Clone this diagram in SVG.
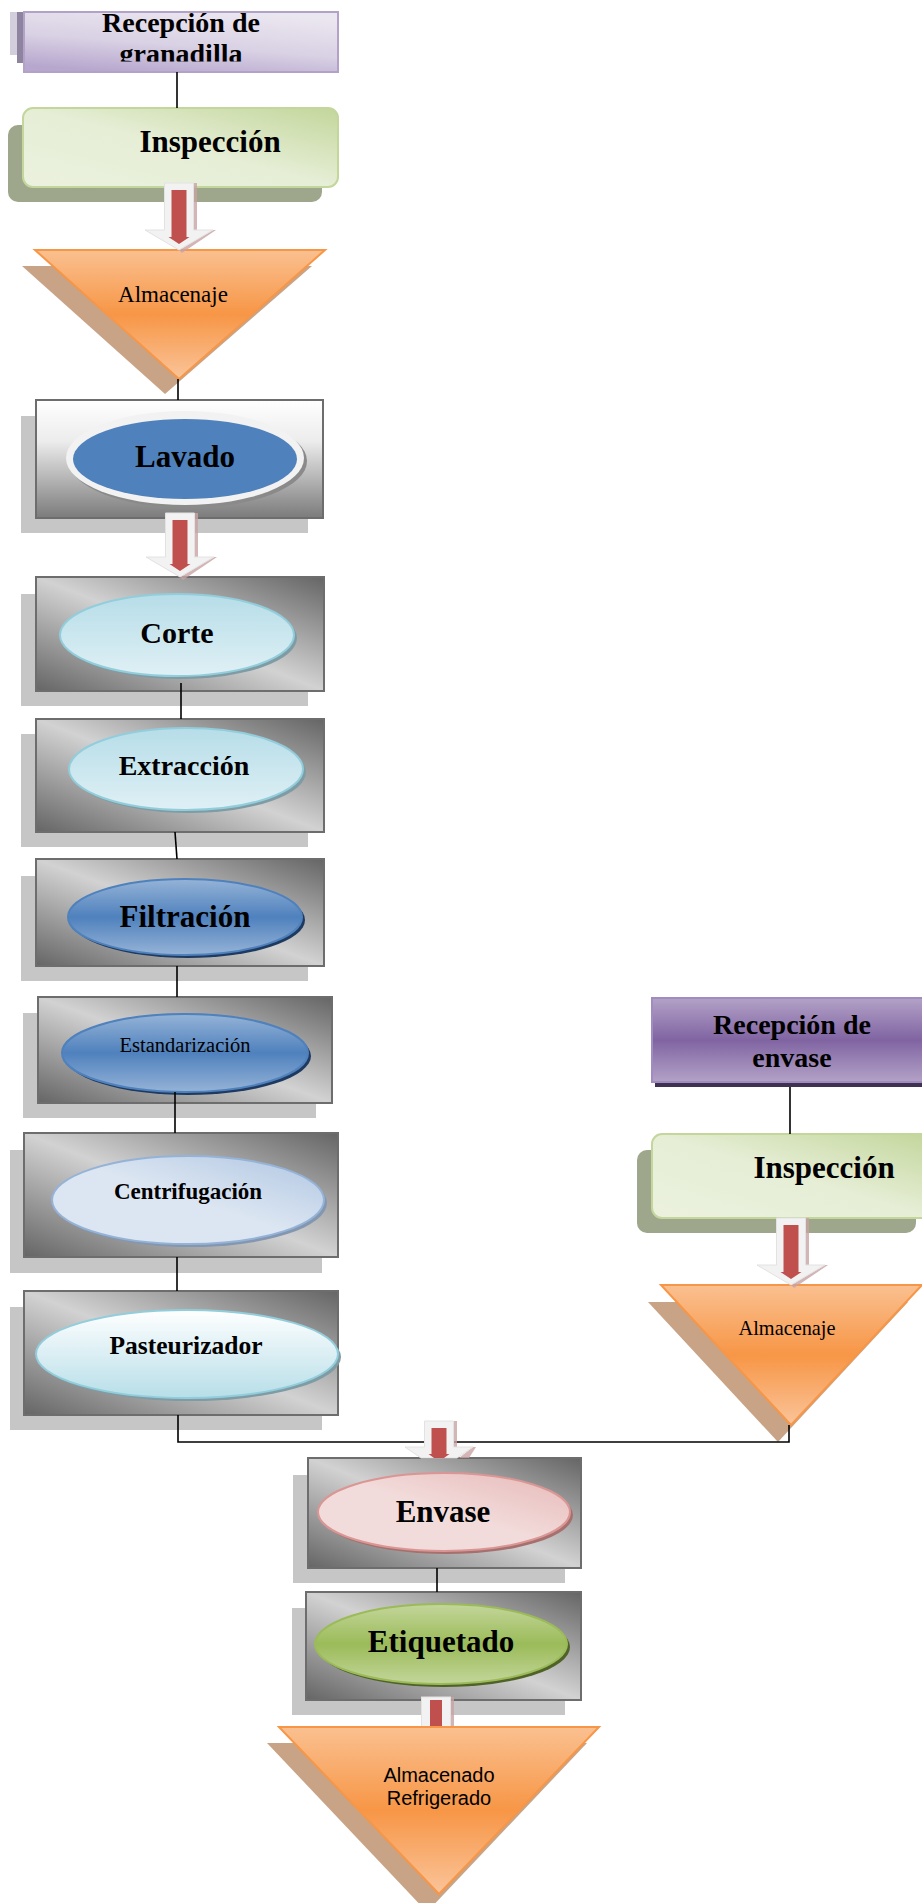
<svg xmlns="http://www.w3.org/2000/svg" width="922" height="1903" viewBox="0 0 922 1903">
<style>
.t{font-family:"Liberation Serif","Times New Roman",serif;fill:#000;text-anchor:middle}
.b{font-weight:bold}
.s{font-family:"Liberation Sans",Arial,sans-serif;fill:#000;text-anchor:middle}
.box{stroke:#6d6d6d;stroke-width:2}
.sh{fill:#c6c6c6}
.tri{fill:url(#gTri);stroke:#f79646;stroke-width:2}
.trish{fill:#c9a385}
.ln{stroke:#000;stroke-width:1.6;fill:none}
.aw{fill:#f2f2f2;stroke:#e2e2e2;stroke-width:1}
.ar{fill:#c0504d}
.ash{fill:#c9a3a3;opacity:.8}
</style>
<defs>
<linearGradient id="gDiag" x1="1" y1="0" x2="0" y2="1"><stop offset="0" stop-color="#656565"/><stop offset="0.5" stop-color="#d2d2d2"/><stop offset="1" stop-color="#656565"/></linearGradient>
<linearGradient id="gVert" x1="0" y1="0" x2="0" y2="1"><stop offset="0" stop-color="#ffffff"/><stop offset="0.35" stop-color="#ececec"/><stop offset="1" stop-color="#7b7b7b"/></linearGradient>
<linearGradient id="gTri" x1="0" y1="0" x2="0" y2="1"><stop offset="0" stop-color="#fac090"/><stop offset="0.5" stop-color="#f79646"/><stop offset="1" stop-color="#fac49a"/></linearGradient>
<linearGradient id="gPurL" x1="0.7" y1="0" x2="0.3" y2="1"><stop offset="0" stop-color="#ebe7f0"/><stop offset="0.55" stop-color="#d9d1e4"/><stop offset="1" stop-color="#b7a7ce"/></linearGradient>
<linearGradient id="gPurD" x1="0" y1="0" x2="0" y2="1"><stop offset="0" stop-color="#b3a2c7"/><stop offset="0.5" stop-color="#8064a2"/><stop offset="1" stop-color="#b3a2c7"/></linearGradient>
<linearGradient id="gGrL" x1="1" y1="0" x2="0" y2="1"><stop offset="0" stop-color="#c3d69b"/><stop offset="0.5" stop-color="#e6eed6"/><stop offset="1" stop-color="#ebf1de"/></linearGradient>
<linearGradient id="gCyan" x1="0" y1="0" x2="0" y2="1"><stop offset="0" stop-color="#b6dde8"/><stop offset="1" stop-color="#dff0f5"/></linearGradient>
<linearGradient id="gBlue" x1="0" y1="0" x2="0" y2="1"><stop offset="0" stop-color="#95b3d7"/><stop offset="0.5" stop-color="#4f81bd"/><stop offset="1" stop-color="#95b3d7"/></linearGradient>
<linearGradient id="gLBlue" x1="1" y1="0" x2="0" y2="1"><stop offset="0" stop-color="#b0c6e2"/><stop offset="0.5" stop-color="#dce6f2"/><stop offset="1" stop-color="#dce6f2"/></linearGradient>
<linearGradient id="gPast" x1="0" y1="0" x2="0" y2="1"><stop offset="0" stop-color="#ffffff"/><stop offset="1" stop-color="#b7dee8"/></linearGradient>
<linearGradient id="gPink" x1="1" y1="0" x2="0" y2="1"><stop offset="0" stop-color="#e6b9b8"/><stop offset="0.5" stop-color="#f2dcdb"/><stop offset="1" stop-color="#f2dcdb"/></linearGradient>
<linearGradient id="gGreen" x1="0" y1="0" x2="0" y2="1"><stop offset="0" stop-color="#c3d69b"/><stop offset="0.5" stop-color="#9bbb59"/><stop offset="1" stop-color="#c3d69b"/></linearGradient>
<clipPath id="clipTop"><rect x="24" y="12" width="314" height="49.5"/></clipPath>
</defs>

<g id="n-recepcion-granadilla">
<rect x="10" y="12" width="10" height="43" fill="#d3cedb"/>
<rect x="17" y="12" width="10" height="51" fill="#8f84a0"/>
<rect x="24" y="12" width="314" height="60" fill="url(#gPurL)" stroke="#b3a2c7" stroke-width="2"/>
<g clip-path="url(#clipTop)">
<text class="t b" x="181" y="32" font-size="28">Recepción de</text>
<text class="t b" x="181" y="63" font-size="28">granadilla</text>
</g>
</g>

<g id="n-inspeccion-1">
<rect x="8" y="125" width="314" height="77" rx="10" fill="#9ea68c"/>
<rect x="23" y="108" width="315" height="79" rx="10" fill="url(#gGrL)" stroke="#c3d69b" stroke-width="2"/>
<text class="t b" x="210" y="152" font-size="31">Inspección</text>
</g>

<g id="n-almacenaje-1">
<polygon class="trish" points="22,266 312,266 165,394"/>
<polygon class="tri" points="35,250 325,250 179,379"/>
<text class="t" x="173" y="302" font-size="23">Almacenaje</text>
</g>

<g id="n-lavado">
<rect class="sh" x="21" y="416" width="287" height="117"/>
<rect class="box" x="36" y="400" width="287" height="118" fill="url(#gVert)"/>
<ellipse cx="188" cy="461" rx="119" ry="47" fill="#8a8a8a"/>
<ellipse cx="185" cy="458" rx="119" ry="47" fill="#f2f2f2"/>
<ellipse cx="185" cy="459" rx="112" ry="40" fill="#4f81bd"/>
<text class="t b" x="185" y="467" font-size="31">Lavado</text>
</g>

<g id="n-corte">
<rect class="sh" x="21" y="594" width="287" height="112"/>
<rect class="box" x="36" y="577" width="288" height="114" fill="url(#gDiag)"/>
<ellipse cx="180" cy="638" rx="117" ry="41" fill="#7f9ca4"/>
<ellipse cx="177" cy="635" rx="117" ry="41" fill="url(#gCyan)" stroke="#92cddc" stroke-width="2"/>
<text class="t b" x="177" y="643" font-size="30">Corte</text>
</g>

<g id="n-extraccion">
<rect class="sh" x="21" y="734" width="287" height="113"/>
<rect class="box" x="36" y="719" width="288" height="113" fill="url(#gDiag)"/>
<ellipse cx="189" cy="772" rx="117" ry="41" fill="#7f9ca4"/>
<ellipse cx="186" cy="769" rx="117" ry="41" fill="url(#gCyan)" stroke="#92cddc" stroke-width="2"/>
<text class="t b" x="184" y="775" font-size="28">Extracción</text>
</g>

<g id="n-filtracion">
<rect class="sh" x="21" y="876" width="287" height="105"/>
<rect class="box" x="36" y="859" width="288" height="107" fill="url(#gDiag)"/>
<ellipse cx="188" cy="920" rx="117" ry="38" fill="#1f3a60"/>
<ellipse cx="185" cy="917" rx="117" ry="38" fill="url(#gBlue)" stroke="#4f81bd" stroke-width="2"/>
<text class="t b" x="185" y="927" font-size="31">Filtración</text>
</g>

<g id="n-estandarizacion">
<rect class="sh" x="23" y="1013" width="293" height="105"/>
<rect class="box" x="38" y="997" width="294" height="106" fill="url(#gDiag)"/>
<ellipse cx="188" cy="1056" rx="123" ry="39" fill="#1f3a60"/>
<ellipse cx="185" cy="1053" rx="123" ry="39" fill="url(#gBlue)" stroke="#4f81bd" stroke-width="2"/>
<text class="t" x="185" y="1052" font-size="20.5">Estandarización</text>
</g>

<g id="n-centrifugacion">
<rect class="sh" x="10" y="1150" width="312" height="123"/>
<rect class="box" x="24" y="1133" width="314" height="124" fill="url(#gDiag)"/>
<ellipse cx="191" cy="1203" rx="136" ry="44" fill="#8497b0"/>
<ellipse cx="188" cy="1200" rx="136" ry="44" fill="url(#gLBlue)" stroke="#95b3d7" stroke-width="2"/>
<text class="t b" x="188" y="1199" font-size="23">Centrifugación</text>
</g>

<g id="n-pasteurizador">
<rect class="sh" x="10" y="1307" width="312" height="123"/>
<rect class="box" x="24" y="1291" width="314" height="124" fill="url(#gDiag)"/>
<ellipse cx="190" cy="1357" rx="151" ry="44" fill="#7f9ca4"/>
<ellipse cx="187" cy="1354" rx="151" ry="44" fill="url(#gPast)" stroke="#92cddc" stroke-width="2"/>
<text class="t b" x="186" y="1354" font-size="25.5">Pasteurizador</text>
</g>

<g id="n-recepcion-envase">
<rect x="655" y="1003" width="267" height="84" fill="#3f3151"/>
<rect x="652" y="998" width="272" height="84" fill="url(#gPurD)" stroke="#a08cbf" stroke-width="2"/>
<text class="t b" x="792" y="1034" font-size="28">Recepción de</text>
<text class="t b" x="792" y="1067" font-size="28">envase</text>
</g>

<g id="n-inspeccion-2">
<rect x="637" y="1150" width="279" height="83" rx="10" fill="#9ea68c"/>
<rect x="652" y="1134" width="280" height="84" rx="10" fill="url(#gGrL)" stroke="#c3d69b" stroke-width="2"/>
<text class="t b" x="824" y="1178" font-size="31">Inspección</text>
</g>

<g id="n-almacenaje-2">
<polygon class="trish" points="648,1302 908,1302 778,1442"/>
<polygon class="tri" points="661,1285 922,1285 791,1425"/>
<text class="t" x="787" y="1335" font-size="20.3">Almacenaje</text>
</g>

<g id="n-envase">
<rect class="sh" x="293" y="1475" width="272" height="108"/>
<rect class="box" x="308" y="1458" width="273" height="110" fill="url(#gDiag)"/>
<ellipse cx="447" cy="1515" rx="126" ry="39" fill="#a5706e"/>
<ellipse cx="444" cy="1512" rx="126" ry="39" fill="url(#gPink)" stroke="#d99694" stroke-width="2"/>
<text class="t b" x="443" y="1522" font-size="31">Envase</text>
</g>

<g id="n-etiquetado">
<rect class="sh" x="292" y="1608" width="273" height="107"/>
<rect class="box" x="306" y="1592" width="275" height="108" fill="url(#gDiag)"/>
<ellipse cx="444" cy="1647" rx="126" ry="40" fill="#4f6228"/>
<ellipse cx="441" cy="1644" rx="126" ry="40" fill="url(#gGreen)" stroke="#9bbb59" stroke-width="2"/>
<text class="t b" x="441" y="1652" font-size="31">Etiquetado</text>
</g>

<g id="connectors">
<polyline class="ln" points="177,72 177,108"/>
<polyline class="ln" points="178,379 178,400"/>
<polyline class="ln" points="181,683 181,719"/>
<polyline class="ln" points="175,832 177,859"/>
<polyline class="ln" points="177,966 177,997"/>
<polyline class="ln" points="175,1092 175,1133"/>
<polyline class="ln" points="177,1257 177,1291"/>
<polyline class="ln" points="178,1415 178,1442 789,1442 789,1425"/>
<polyline class="ln" points="790,1087 790,1134"/>
<polyline class="ln" points="437,1568 437,1592"/>
<!-- block arrows -->
<g transform="translate(179,183)">
<path class="ash" d="M14.5,0 H18 V47 H37 L3,70 L0,67 L34,47 H14.5 Z"/>
<path class="aw" d="M-14.5,0 H14.5 V47 H34 L0,67 L-34,47 H-14.5 Z"/>
<path class="ar" d="M-7.5,7 H7.5 V54 H10.5 L0,61 L-10.5,54 H-7.5 Z"/>
</g>
<g transform="translate(180,513)">
<path class="ash" d="M14.5,0 H18 V44 H37 L3,67 L0,64 L34,44 H14.5 Z"/>
<path class="aw" d="M-14.5,0 H14.5 V44 H34 L0,64 L-34,44 H-14.5 Z"/>
<path class="ar" d="M-7.5,7 H7.5 V51 H10.5 L0,58 L-10.5,51 H-7.5 Z"/>
</g>
<g transform="translate(791,1218)">
<path class="ash" d="M14.5,0 H18 V47 H37 L3,70 L0,67 L34,47 H14.5 Z"/>
<path class="aw" d="M-14.5,0 H14.5 V47 H34 L0,67 L-34,47 H-14.5 Z"/>
<path class="ar" d="M-7.5,7 H7.5 V54 H10.5 L0,61 L-10.5,54 H-7.5 Z"/>
</g>
<g transform="translate(439,1421)">
<path class="ash" d="M14.5,0 H18 V26 H37 L30,37 L20,37 L34,26 H14.5 Z"/>
<path class="aw" d="M-14.5,0 H14.5 V26 H34 L18,37 L-18,37 L-34,26 H-14.5 Z"/>
<path class="ar" d="M-7.5,7 H7.5 V33 H10.5 L5,37 L-5,37 L-10.5,33 H-7.5 Z"/>
</g>
<g transform="translate(436,1697)">
<rect class="ash" x="14.5" y="0" width="3.5" height="30"/>
<rect class="aw" x="-14.5" y="0" width="29" height="30"/>
<rect class="ar" x="-6" y="3" width="12" height="27"/>
</g>
</g>

<g id="n-almacenado-refrigerado">
<polygon class="trish" points="267,1743 587,1743 427,1912"/>
<polygon class="tri" points="279,1727 599,1727 439,1894"/>
<text class="s" x="439" y="1782" font-size="20">Almacenado</text>
<text class="s" x="439" y="1805" font-size="20">Refrigerado</text>
</g>
</svg>
